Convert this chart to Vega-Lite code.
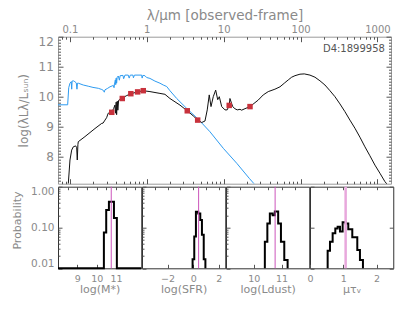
{
"$schema": "https://vega.github.io/schema/vega-lite/v6.json",
"autosize": {"type": "none"},
"padding": {"left": 58, "top": 36.7, "right": 357, "bottom": 275.3},
"config": {
  "view": {"stroke": "#9a9a9a"},
  "axis": {"domain": false, "grid": false, "labelFont": "DejaVu Sans", "titleFont": "DejaVu Sans", "labelColor": "#8a8a8a", "titleColor": "#8a8a8a", "tickColor": "#555555", "titleFontWeight": "normal", "labelOverlap": false, "tickWidth": 1}
},
"datasets": {
  "black": [
    {"lam": 0.0953, "v": 7.1}, {"lam": 0.1002, "v": 7.89}, {"lam": 0.1054, "v": 8.22}, {"lam": 0.1107, "v": 8.33}, {"lam": 0.1189, "v": 8.36}, {"lam": 0.1225, "v": 8.3}, {"lam": 0.1247, "v": 7.89}, {"lam": 0.127, "v": 8.4}, {"lam": 0.1285, "v": 8.5}, {"lam": 0.157, "v": 8.67}, {"lam": 0.212, "v": 8.94}, {"lam": 0.259, "v": 9.11}, {"lam": 0.27, "v": 9.12}, {"lam": 0.286, "v": 9.22}, {"lam": 0.3, "v": 9.3}, {"lam": 0.315, "v": 9.45}, {"lam": 0.349, "v": 9.48}, {"lam": 0.37, "v": 9.6}, {"lam": 0.385, "v": 9.72}, {"lam": 0.392, "v": 9.45}, {"lam": 0.4, "v": 9.82}, {"lam": 0.405, "v": 9.4}, {"lam": 0.413, "v": 9.85}, {"lam": 0.42, "v": 9.55}, {"lam": 0.43, "v": 9.88}, {"lam": 0.471, "v": 9.94}, {"lam": 0.54, "v": 10.03}, {"lam": 0.622, "v": 10.1}, {"lam": 0.76, "v": 10.16}, {"lam": 0.9, "v": 10.2}, {"lam": 1.099, "v": 10.17}, {"lam": 1.483, "v": 10.11}, {"lam": 1.722, "v": 10.08}, {"lam": 2.0, "v": 9.94}, {"lam": 2.7, "v": 9.72}, {"lam": 3.36, "v": 9.53}, {"lam": 4.02, "v": 9.36}, {"lam": 4.59, "v": 9.22}, {"lam": 5.18, "v": 9.14}, {"lam": 5.71, "v": 9.19}, {"lam": 6.11, "v": 9.56}, {"lam": 6.49, "v": 10.06}, {"lam": 6.84, "v": 9.67}, {"lam": 7.32, "v": 10.0}, {"lam": 7.87, "v": 10.22}, {"lam": 8.36, "v": 9.9}, {"lam": 8.77, "v": 10.0}, {"lam": 9.42, "v": 9.67}, {"lam": 10.4, "v": 9.56}, {"lam": 11.1, "v": 9.56}, {"lam": 11.8, "v": 9.71}, {"lam": 12.06, "v": 9.94}, {"lam": 13.1, "v": 9.67}, {"lam": 14.0, "v": 9.6}, {"lam": 15.0, "v": 9.56}, {"lam": 16.3, "v": 9.58}, {"lam": 17.1, "v": 9.55}, {"lam": 18.9, "v": 9.6}, {"lam": 22.0, "v": 9.67}, {"lam": 28.2, "v": 9.89}, {"lam": 32.7, "v": 10.06}, {"lam": 38.0, "v": 10.17}, {"lam": 46.4, "v": 10.25}, {"lam": 54.0, "v": 10.33}, {"lam": 61.4, "v": 10.45}, {"lam": 69.2, "v": 10.56}, {"lam": 76.6, "v": 10.65}, {"lam": 84.5, "v": 10.7}, {"lam": 98.2, "v": 10.75}, {"lam": 111.7, "v": 10.76}, {"lam": 132.4, "v": 10.72}, {"lam": 153.8, "v": 10.65}, {"lam": 178.6, "v": 10.53}, {"lam": 207.5, "v": 10.39}, {"lam": 241, "v": 10.2}, {"lam": 280, "v": 10.0}, {"lam": 325, "v": 9.76}, {"lam": 377.6, "v": 9.5}, {"lam": 438.5, "v": 9.22}, {"lam": 509, "v": 8.95}, {"lam": 591.6, "v": 8.65}, {"lam": 687, "v": 8.33}, {"lam": 798, "v": 8.03}, {"lam": 927, "v": 7.72}, {"lam": 1076, "v": 7.45}, {"lam": 1250, "v": 7.17}, {"lam": 1355, "v": 7.06}
  ],
  "blue": [
    {"lam": 0.07, "v": 9.73}, {"lam": 0.0935, "v": 9.73}, {"lam": 0.0965, "v": 10.3}, {"lam": 0.1002, "v": 10.45}, {"lam": 0.104, "v": 10.5}, {"lam": 0.1055, "v": 10.25}, {"lam": 0.1068, "v": 10.52}, {"lam": 0.1107, "v": 10.53}, {"lam": 0.116, "v": 10.5}, {"lam": 0.121, "v": 10.46}, {"lam": 0.1235, "v": 10.25}, {"lam": 0.1255, "v": 10.45}, {"lam": 0.1285, "v": 10.45}, {"lam": 0.149, "v": 10.39}, {"lam": 0.173, "v": 10.35}, {"lam": 0.1995, "v": 10.31}, {"lam": 0.234, "v": 10.28}, {"lam": 0.26, "v": 10.24}, {"lam": 0.272, "v": 10.21}, {"lam": 0.28, "v": 10.15}, {"lam": 0.286, "v": 10.23}, {"lam": 0.31, "v": 10.28}, {"lam": 0.332, "v": 10.33}, {"lam": 0.355, "v": 10.36}, {"lam": 0.366, "v": 10.38}, {"lam": 0.375, "v": 10.3}, {"lam": 0.38, "v": 10.42}, {"lam": 0.39, "v": 10.56}, {"lam": 0.394, "v": 10.4}, {"lam": 0.4, "v": 10.62}, {"lam": 0.405, "v": 10.45}, {"lam": 0.412, "v": 10.65}, {"lam": 0.426, "v": 10.69}, {"lam": 0.44, "v": 10.55}, {"lam": 0.45, "v": 10.7}, {"lam": 0.49, "v": 10.71}, {"lam": 0.5, "v": 10.6}, {"lam": 0.52, "v": 10.72}, {"lam": 0.574, "v": 10.72}, {"lam": 0.59, "v": 10.62}, {"lam": 0.61, "v": 10.72}, {"lam": 0.66, "v": 10.72}, {"lam": 0.67, "v": 10.63}, {"lam": 0.69, "v": 10.72}, {"lam": 0.857, "v": 10.72}, {"lam": 0.87, "v": 10.62}, {"lam": 0.89, "v": 10.71}, {"lam": 0.946, "v": 10.7}, {"lam": 0.995, "v": 10.64}, {"lam": 1.099, "v": 10.61}, {"lam": 1.276, "v": 10.52}, {"lam": 1.483, "v": 10.45}, {"lam": 1.637, "v": 10.39}, {"lam": 1.815, "v": 10.34}, {"lam": 2.0, "v": 10.2}, {"lam": 2.45, "v": 9.94}, {"lam": 3.3, "v": 9.61}, {"lam": 4.67, "v": 9.25}, {"lam": 6.64, "v": 8.83}, {"lam": 9.88, "v": 8.28}, {"lam": 14.8, "v": 7.78}, {"lam": 21.5, "v": 7.28}, {"lam": 24.8, "v": 7.1}
  ],
  "red": [
    {"lam": 0.35, "v": 9.48}, {"lam": 0.48, "v": 9.94}, {"lam": 0.62, "v": 10.1}, {"lam": 0.76, "v": 10.16}, {"lam": 0.9, "v": 10.2}, {"lam": 3.36, "v": 9.53}, {"lam": 4.59, "v": 9.22}, {"lam": 11.8, "v": 9.71}, {"lam": 22.0, "v": 9.67}
  ],
  "label": [{"lam": 1250, "v": 11.58, "t": "D4:1899958"}],
  "hist": [
    {"k": "m", "i": 0, "x": 8, "p": 0.01}, {"k": "m", "i": 1, "x": 10.37, "p": 0.075}, {"k": "m", "i": 2, "x": 10.49, "p": 0.27}, {"k": "m", "i": 3, "x": 10.63, "p": 0.43}, {"k": "m", "i": 4, "x": 10.89, "p": 0.17}, {"k": "m", "i": 5, "x": 11.04, "p": 0.01}, {"k": "m", "i": 6, "x": 12.3, "p": 0.01},
    {"k": "s", "i": 0, "x": -0.05, "p": 0.01}, {"k": "s", "i": 1, "x": -0.05, "p": 0.0166}, {"k": "s", "i": 2, "x": 0.08, "p": 0.06}, {"k": "s", "i": 3, "x": 0.21, "p": 0.244}, {"k": "s", "i": 4, "x": 0.39, "p": 0.22}, {"k": "s", "i": 5, "x": 0.55, "p": 0.153}, {"k": "s", "i": 6, "x": 0.68, "p": 0.066}, {"k": "s", "i": 7, "x": 0.82, "p": 0.0166}, {"k": "s", "i": 8, "x": 0.95, "p": 0.01},
    {"k": "d", "i": 0, "x": 10.4, "p": 0.01}, {"k": "d", "i": 1, "x": 10.4, "p": 0.045}, {"k": "d", "i": 2, "x": 10.49, "p": 0.126}, {"k": "d", "i": 3, "x": 10.58, "p": 0.22}, {"k": "d", "i": 4, "x": 10.68, "p": 0.2}, {"k": "d", "i": 5, "x": 10.76, "p": 0.245}, {"k": "d", "i": 6, "x": 10.88, "p": 0.126}, {"k": "d", "i": 7, "x": 10.98, "p": 0.045}, {"k": "d", "i": 8, "x": 11.1, "p": 0.016}, {"k": "d", "i": 9, "x": 11.22, "p": 0.01},
    {"k": "t", "i": 0, "x": 0.53, "p": 0.01}, {"k": "t", "i": 1, "x": 0.53, "p": 0.027}, {"k": "t", "i": 2, "x": 0.6, "p": 0.045}, {"k": "t", "i": 3, "x": 0.68, "p": 0.072}, {"k": "t", "i": 4, "x": 0.76, "p": 0.095}, {"k": "t", "i": 5, "x": 0.83, "p": 0.105}, {"k": "t", "i": 6, "x": 0.9, "p": 0.08}, {"k": "t", "i": 7, "x": 0.98, "p": 0.135}, {"k": "t", "i": 8, "x": 1.07, "p": 0.125}, {"k": "t", "i": 9, "x": 1.15, "p": 0.09}, {"k": "t", "i": 10, "x": 1.27, "p": 0.058}, {"k": "t", "i": 11, "x": 1.42, "p": 0.028}, {"k": "t", "i": 12, "x": 1.5, "p": 0.016}, {"k": "t", "i": 13, "x": 1.59, "p": 0.01}
  ]
},
"spacing": 3,
"bounds": "flush",
"vconcat": [
  {
    "width": 333, "height": 147,
    "layer": [
      {"data": {"name": "blue"}, "mark": {"type": "line", "stroke": "#2E9BF0", "strokeWidth": 1, "clip": true},
       "encoding": {
         "x": {"field": "lam", "type": "quantitative", "scale": {"type": "log", "domain": [0.07, 1500], "nice": false}, "axis": {"orient": "top", "values": [0.08,0.09,0.2,0.3,0.4,0.5,0.6,0.7,0.8,0.9,2,3,4,5,6,7,8,9,20,30,40,50,60,70,80,90,200,300,400,500,600,700,800,900], "labels": false, "tickSize": -2.5, "title": null}},
         "y": {"field": "v", "type": "quantitative", "scale": {"domain": [7.1, 12], "nice": false, "zero": false}, "axis": {"orient": "left", "values": [7.2,7.3,7.4,7.5,7.6,7.7,7.8,7.9,8.1,8.2,8.3,8.4,8.5,8.6,8.7,8.8,8.9,9.1,9.2,9.3,9.4,9.5,9.6,9.7,9.8,9.9,10.1,10.2,10.3,10.4,10.5,10.6,10.7,10.8,10.9,11.1,11.2,11.3,11.4,11.5,11.6,11.7,11.8,11.9], "labels": false, "tickSize": -2.5, "title": null}}
       }},
      {"data": {"name": "black"}, "mark": {"type": "line", "stroke": "#111111", "strokeWidth": 1, "clip": true},
       "encoding": {
         "x": {"field": "lam", "type": "quantitative", "scale": {"type": "log", "domain": [0.07, 1500], "nice": false}, "axis": {"orient": "top", "values": [0.1, 1, 10, 100, 1000], "format": "~g", "labelFontSize": 10, "labelBaseline": "middle", "labelFlush": false, "tickSize": -5, "labelPadding": 12.4, "title": "λ/μm [observed-frame]", "titleFontSize": 13.5, "titleY": -21.7, "titleBaseline": "middle"}},
         "y": {"field": "v", "type": "quantitative", "scale": {"domain": [7.1, 12], "nice": false, "zero": false}, "axis": {"orient": "left", "values": [8, 9, 10, 11, 12], "labelFontSize": 12, "labelFlush": true, "tickSize": -5, "labelPadding": 9.7, "title": "log(λLλ/Lₛᵤₙ)", "titleFontSize": 12, "titleX": -35, "titleY": 73.5, "titleBaseline": "middle"}}
       }},
      {"data": {"name": "red"}, "mark": {"type": "point", "shape": "square", "filled": true, "size": 30, "color": "#C8323C", "opacity": 1},
       "encoding": {
         "x": {"field": "lam", "type": "quantitative", "scale": {"type": "log", "domain": [0.07, 1500], "nice": false}, "axis": {"orient": "bottom", "values": [0.1, 1, 10, 100, 1000], "labels": false, "tickSize": -5, "title": null}},
         "y": {"field": "v", "type": "quantitative", "scale": {"domain": [7.1, 12], "nice": false, "zero": false}, "axis": {"orient": "right", "values": [8, 9, 10, 11, 12], "labels": false, "tickSize": -5, "title": null}}
       }},
      {"data": {"name": "label"}, "mark": {"type": "text", "align": "right", "baseline": "middle", "fontSize": 10, "font": "DejaVu Sans", "color": "#555555"},
       "encoding": {
         "text": {"field": "t"},
         "x": {"field": "lam", "type": "quantitative", "scale": {"type": "log", "domain": [0.07, 1500], "nice": false}, "axis": {"orient": "bottom", "values": [0.08,0.09,0.2,0.3,0.4,0.5,0.6,0.7,0.8,0.9,2,3,4,5,6,7,8,9,20,30,40,50,60,70,80,90,200,300,400,500,600,700,800,900], "labels": false, "tickSize": -2.5, "title": null}},
         "y": {"field": "v", "type": "quantitative", "scale": {"domain": [7.1, 12], "nice": false, "zero": false}, "axis": {"orient": "right", "values": [7.2,7.3,7.4,7.5,7.6,7.7,7.8,7.9,8.1,8.2,8.3,8.4,8.5,8.6,8.7,8.8,8.9,9.1,9.2,9.3,9.4,9.5,9.6,9.7,9.8,9.9,10.1,10.2,10.3,10.4,10.5,10.6,10.7,10.8,10.9,11.1,11.2,11.3,11.4,11.5,11.6,11.7,11.8,11.9], "labels": false, "tickSize": -2.5, "title": null}}
       }}
    ],
    "resolve": {"axis": {"x": "independent", "y": "independent"}}
  },
  {
    "spacing": 0,
    "bounds": "flush",
    "hconcat": [
      {
        "width": 83.25, "height": 81.6,
        "view": {"stroke": "#333333"},
        "layer": [
          {"data": {"name": "hist"}, "transform": [{"filter": "datum.k == 'm'"}],
           "mark": {"type": "line", "interpolate": "step-after", "stroke": "#000000", "strokeWidth": 2},
           "encoding": {
             "x": {"field": "x", "type": "quantitative", "scale": {"domain": [8, 12.3], "nice": false, "zero": false}, "axis": {"orient": "bottom", "values": [9, 10, 11], "labelFontSize": 9.5, "labelFlush": false, "tickSize": -4, "labelPadding": 9.2, "title": "log(M*)", "titleFontSize": 11, "titleY": 21, "titleBaseline": "middle"}},
             "y": {"field": "p", "type": "quantitative", "scale": {"type": "log", "domain": [0.01, 1], "nice": false}, "axis": {"orient": "left", "values": [0.01, 0.1, 1], "format": ".2f", "labelFontSize": 10.5, "labelFlush": true, "tickSize": -4, "labelPadding": 8, "title": "Probability", "titleFontSize": 11, "titleX": -40.3, "titleY": 33.3, "titleBaseline": "middle"}},
             "order": {"field": "i", "type": "quantitative"}
           }},
          {"data": {"values": [{"v": 10.75}]},
           "mark": {"type": "rule", "stroke": "#CC55BB", "strokeWidth": 1},
           "encoding": {
             "x": {"field": "v", "type": "quantitative", "scale": {"domain": [8, 12.3], "nice": false, "zero": false}, "axis": {"orient": "top", "values": [8.5, 9, 9.5, 10, 10.5, 11, 11.5, 12], "labels": false, "tickSize": -3, "title": null}},
             "y": {"datum": 0.01, "type": "quantitative", "scale": {"type": "log", "domain": [0.01, 1], "nice": false}, "axis": {"orient": "left", "values": [0.02,0.03,0.04,0.05,0.06,0.07,0.08,0.09,0.2,0.3,0.4,0.5,0.6,0.7,0.8,0.9], "labels": false, "tickSize": -2, "title": null}},
             "y2": {"datum": 1}
           }}
        ],
        "resolve": {"axis": {"x": "independent", "y": "independent"}}
      },
      {
        "width": 83.25, "height": 81.6,
        "view": {"stroke": "#333333"},
        "layer": [
          {"data": {"name": "hist"}, "transform": [{"filter": "datum.k == 's'"}],
           "mark": {"type": "line", "interpolate": "step-after", "stroke": "#000000", "strokeWidth": 2},
           "encoding": {
             "x": {"field": "x", "type": "quantitative", "scale": {"domain": [-4, 2.5], "nice": false, "zero": false}, "axis": {"orient": "bottom", "values": [-2, 0, 2], "labelFontSize": 9.5, "labelFlush": false, "tickSize": -4, "labelPadding": 9.2, "title": "log(SFR)", "titleFontSize": 11, "titleY": 21, "titleBaseline": "middle"}},
             "y": {"field": "p", "type": "quantitative", "scale": {"type": "log", "domain": [0.01, 1], "nice": false}, "axis": {"orient": "left", "values": [0.01, 0.1, 1], "labels": false, "tickSize": -4, "title": null}},
             "order": {"field": "i", "type": "quantitative"}
           }},
          {"data": {"values": [{"v": 0.42}]},
           "mark": {"type": "rule", "stroke": "#CC55BB", "strokeWidth": 1},
           "encoding": {
             "x": {"field": "v", "type": "quantitative", "scale": {"domain": [-4, 2.5], "nice": false, "zero": false}, "axis": {"orient": "top", "values": [-3, -2, -1, 0, 1, 2], "labels": false, "tickSize": -3, "title": null}},
             "y": {"datum": 0.01, "type": "quantitative", "scale": {"type": "log", "domain": [0.01, 1], "nice": false}, "axis": {"orient": "left", "values": [0.02,0.03,0.04,0.05,0.06,0.07,0.08,0.09,0.2,0.3,0.4,0.5,0.6,0.7,0.8,0.9], "labels": false, "tickSize": -2, "title": null}},
             "y2": {"datum": 1}
           }}
        ],
        "resolve": {"axis": {"x": "independent", "y": "independent"}}
      },
      {
        "width": 83.25, "height": 81.6,
        "view": {"stroke": "#333333"},
        "layer": [
          {"data": {"name": "hist"}, "transform": [{"filter": "datum.k == 'd'"}],
           "mark": {"type": "line", "interpolate": "step-after", "stroke": "#000000", "strokeWidth": 2},
           "encoding": {
             "x": {"field": "x", "type": "quantitative", "scale": {"domain": [9, 12], "nice": false, "zero": false}, "axis": {"orient": "bottom", "values": [10, 11], "labelFontSize": 9.5, "labelFlush": false, "tickSize": -4, "labelPadding": 9.2, "title": "log(Ldust)", "titleFontSize": 11, "titleY": 21, "titleBaseline": "middle"}},
             "y": {"field": "p", "type": "quantitative", "scale": {"type": "log", "domain": [0.01, 1], "nice": false}, "axis": {"orient": "left", "values": [0.01, 0.1, 1], "labels": false, "tickSize": -4, "title": null}},
             "order": {"field": "i", "type": "quantitative"}
           }},
          {"data": {"values": [{"v": 10.77}]},
           "mark": {"type": "rule", "stroke": "#CC55BB", "strokeWidth": 1},
           "encoding": {
             "x": {"field": "v", "type": "quantitative", "scale": {"domain": [9, 12], "nice": false, "zero": false}, "axis": {"orient": "top", "values": [9.5, 10, 10.5, 11, 11.5], "labels": false, "tickSize": -3, "title": null}},
             "y": {"datum": 0.01, "type": "quantitative", "scale": {"type": "log", "domain": [0.01, 1], "nice": false}, "axis": {"orient": "left", "values": [0.02,0.03,0.04,0.05,0.06,0.07,0.08,0.09,0.2,0.3,0.4,0.5,0.6,0.7,0.8,0.9], "labels": false, "tickSize": -2, "title": null}},
             "y2": {"datum": 1}
           }}
        ],
        "resolve": {"axis": {"x": "independent", "y": "independent"}}
      },
      {
        "width": 83.25, "height": 81.6,
        "view": {"stroke": "#333333"},
        "layer": [
          {"data": {"name": "hist"}, "transform": [{"filter": "datum.k == 't'"}],
           "mark": {"type": "line", "interpolate": "step-after", "stroke": "#000000", "strokeWidth": 2},
           "encoding": {
             "x": {"field": "x", "type": "quantitative", "scale": {"domain": [0, 2.5], "nice": false, "zero": false}, "axis": {"orient": "bottom", "values": [0, 1, 2], "labelFontSize": 9.5, "labelFlush": false, "tickSize": -4, "labelPadding": 9.2, "title": "μτᵥ", "titleFontSize": 11, "titleY": 21, "titleBaseline": "middle"}},
             "y": {"field": "p", "type": "quantitative", "scale": {"type": "log", "domain": [0.01, 1], "nice": false}, "axis": {"orient": "left", "values": [0.01, 0.1, 1], "labels": false, "tickSize": -4, "title": null}},
             "order": {"field": "i", "type": "quantitative"}
           }},
          {"data": {"values": [{"v": 1.07}]},
           "mark": {"type": "rule", "stroke": "#E8A8DC", "strokeWidth": 2.5},
           "encoding": {
             "x": {"field": "v", "type": "quantitative", "scale": {"domain": [0, 2.5], "nice": false, "zero": false}, "axis": {"orient": "top", "values": [0.5, 1, 1.5, 2], "labels": false, "tickSize": -3, "title": null}},
             "y": {"datum": 0.01, "type": "quantitative", "scale": {"type": "log", "domain": [0.01, 1], "nice": false}, "axis": {"orient": "right", "values": [0.01, 0.1, 1], "labels": false, "tickSize": -4, "title": null}},
             "y2": {"datum": 1}
           }}
        ],
        "resolve": {"axis": {"x": "independent", "y": "independent"}}
      }
    ]
  }
]
}
